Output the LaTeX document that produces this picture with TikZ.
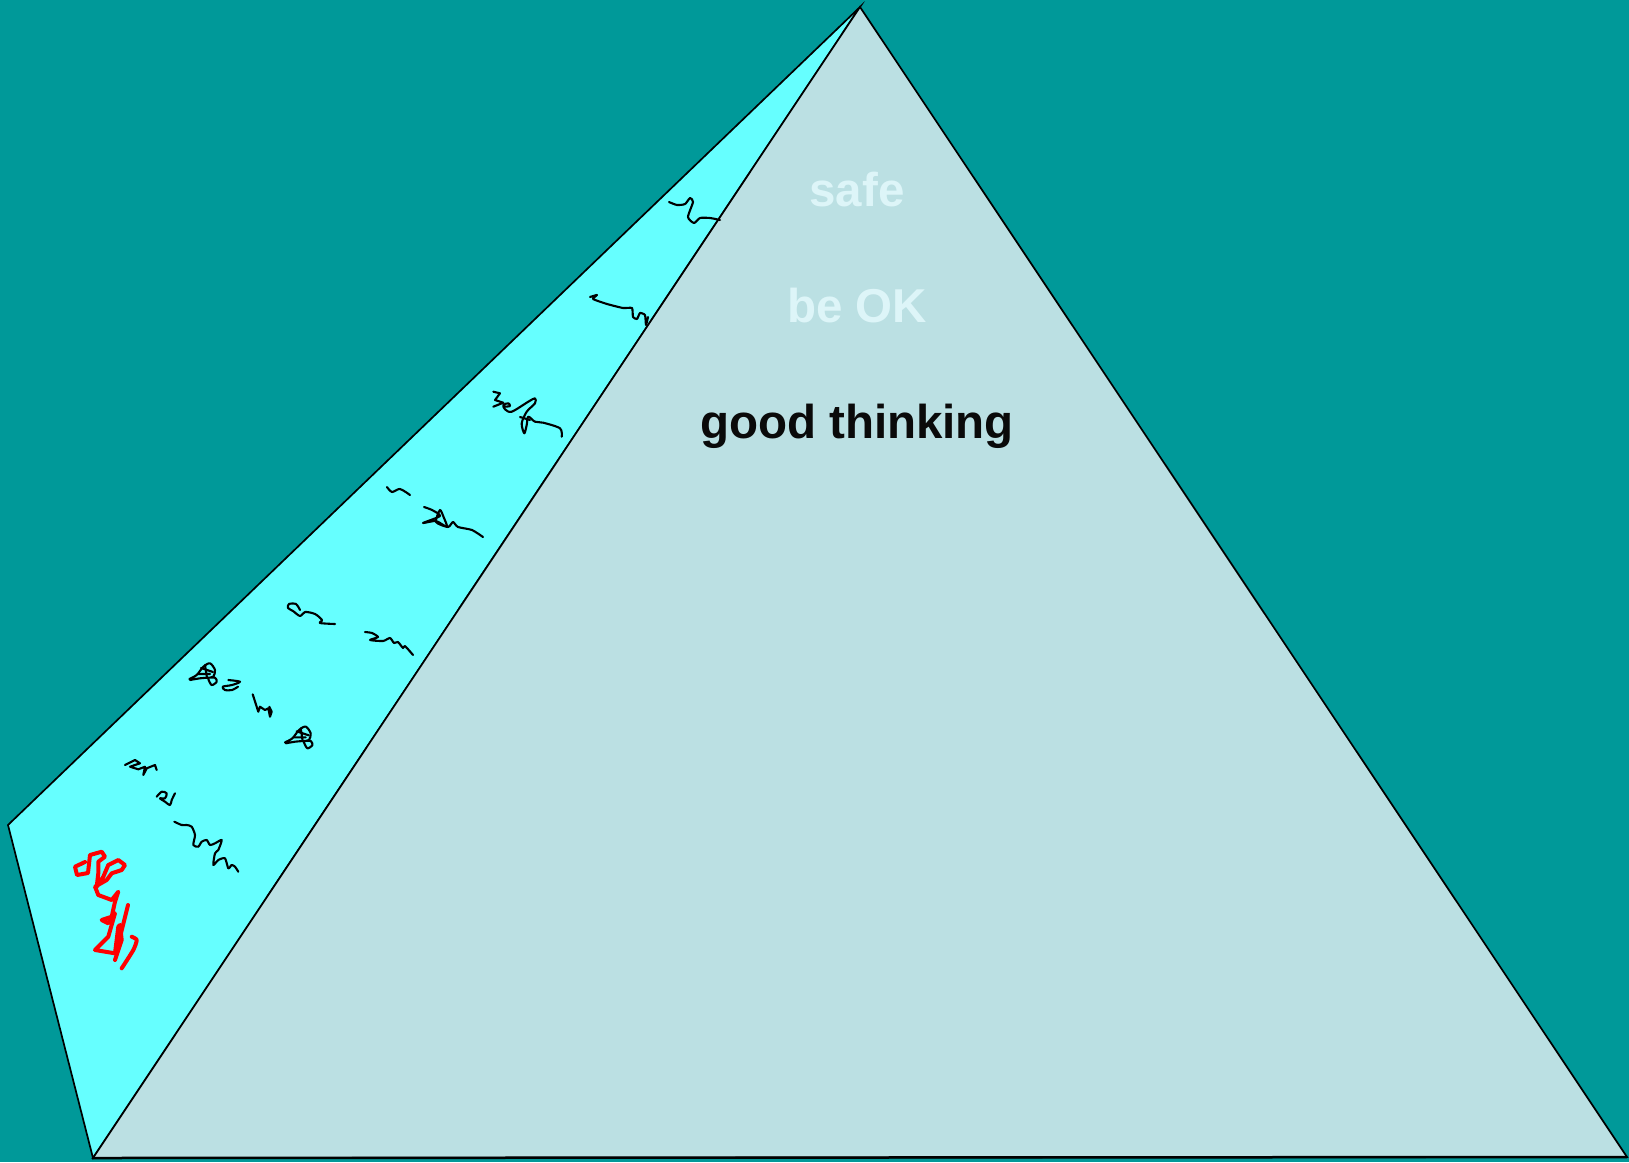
\documentclass[tikz,border=0pt]{standalone}
\usepackage{fontspec}
\setmainfont{Liberation Sans}
\definecolor{bgteal}{HTML}{009999}
\definecolor{sidecyan}{HTML}{66FFFF}
\definecolor{frontface}{HTML}{BBE0E3}
\definecolor{faint}{HTML}{DDF5F8}
\definecolor{ink}{HTML}{0A0A0A}
\tikzset{
  face/.style={draw=black, line width=1.7pt, line join=miter},
  scrib/.style={draw=black, line width=2.1pt, line cap=round, line join=round},
  redscrib/.style={draw=red, line width=4pt, line cap=round, line join=round},
  label/.style={font=\fontsize{47.5}{57}\selectfont\bfseries, inner sep=0pt, anchor=base}
}
\begin{document}
\begin{tikzpicture}[x=1pt,y=-1pt]
\fill[bgteal] (0,0) rectangle (1629,1162);
\useasboundingbox (0,0) rectangle (1629,1162);
\coordinate (apex) at (860,7);
\coordinate (left) at (8,825);
\coordinate (bl) at (93,1158);
\coordinate (br) at (1627,1157);
% side face
\filldraw[face, fill=sidecyan] (apex) -- (left) -- (bl) -- cycle;
% front face
\filldraw[face, fill=frontface] (apex) -- (bl) -- (br) -- cycle;
\draw[black, line width=2.5pt] (bl) -- (br);
% labels
\node[label, text=faint] (safe) at (857,206) {safe};
\node[label, text=faint] (beok) at (857,322) {be OK};
\node[label, text=ink] (good) at (857,438) {good thinking};
% scribbles
\draw[scrib] plot[smooth, tension=0.4] coordinates {(669,202) (677,205) (685,204) (690,198) (693,202) (688,217) (694,223) (700,218) (710,218) (720,220)};
\draw[scrib] plot[smooth, tension=0.3] coordinates {(590,297) (597,295) (593,299) (607,304) (623,308) (632,308) (633,317) (637,319) (640,313) (645,315) (646,325) (648,317)};
\draw[scrib] plot[tension=0.3] coordinates {(493.3,391.7) (500,393.3) (495,400) (503.3,402.7) (493.3,406.7)};
\draw[scrib] plot[smooth, tension=0.5] coordinates {(505,406.7) (510,406) (508.3,403.3) (503.3,405) (505,409.3) (511.7,411.7) (528.3,401.7) (535,398.3) (535,403.3) (526.7,411.7) (521.7,423.3) (524.3,433.3) (526.7,425) (528.3,416.7) (535,421.7) (543.3,422.7) (560,428.3) (561.7,436.7)};
\draw[scrib] (520,417) -- (530,420);
% row 4
\draw[scrib] plot[smooth, tension=0.5] coordinates {(387,487) (392,492) (400,489) (410,495)};
\draw[scrib] plot[smooth, tension=0.4] coordinates {(424,507) (432,510) (440,516) (423,523) (436,521) (447,527) (444,518) (440,510) (436,522) (448,527) (453,522) (458,527) (472,530) (483,537)};
% row 5
\draw[scrib] plot[smooth, tension=0.5] coordinates {(300,610) (296,604) (289,604) (288,608) (293,611) (300,616) (305,612) (315,614) (322,620) (320,623) (335,624)};
\draw[scrib] plot[smooth, tension=0.4] coordinates {(365,632) (372,633) (378,637) (370,640) (383,641) (390,638) (394,643) (398,642) (403,648) (405,646) (413,655)};
% row 6
\begin{scope}
\draw[scrib] plot[smooth, tension=0.5] coordinates {(189.3,679) (196.7,675) (203.3,666.7) (210,663.3) (215,670) (213.3,676.7) (208.3,678.3) (211.7,685) (216.7,681.7) (215,677.7) (208.3,677.7) (200,678.3) (190,680)};
\draw[scrib] (201,668) -- (213,672) (205,665) -- (207,678) (198,674) -- (210,674);
\end{scope}
\begin{scope}[shift={(95.7,63.3)}]
\draw[scrib] plot[smooth, tension=0.5] coordinates {(189.3,679) (196.7,675) (203.3,666.7) (210,663.3) (215,670) (213.3,676.7) (208.3,678.3) (211.7,685) (216.7,681.7) (215,677.7) (208.3,677.7) (200,678.3) (190,680)};
\draw[scrib] (201,668) -- (213,672) (205,665) -- (207,678) (198,674) -- (210,674);
\end{scope}
\draw[scrib] plot[smooth, tension=0.5] coordinates {(228.3,680) (240,681.7) (232,685) (222.7,686.7) (225,690) (232,690) (238,686.7)};
\draw[scrib] plot[tension=0.4] coordinates {(252.7,694.3) (258.3,711.7) (260,706.7) (265,710) (268.3,708.3) (270,716.7) (271.7,711.7) (269.3,706.7)};
% row 7
\draw[scrib] plot[tension=0.4] coordinates {(125,765) (135,760) (140,763.3) (130,766.7) (138.3,769.3) (145,766.7) (143.3,775) (146.7,768.3) (155,765) (156.7,770)};
\draw[scrib] plot[smooth, tension=0.5] coordinates {(156.7,796.7) (161.7,791.7) (166.7,793.3) (165,798.3) (160,798.3) (165,801.7) (170,805) (171.7,800) (173.3,796.7) (175,793.3)};
\draw[scrib] plot[smooth, tension=0.4] coordinates {(174.3,821.7) (181.7,825) (186.7,825) (191.7,826.7) (195,835) (193.3,845) (198.3,846.7) (201.7,841.7) (206.7,840) (210,845) (215,843.3) (221.7,840) (218.3,850) (215,853.3) (213.3,865) (218.3,860) (225,858.3) (228.3,868.3) (231.7,865) (235,866.7) (238.3,871.7)};
% red scribble
\draw[redscrib] plot[tension=0.4] coordinates {(85,862) (75,866.7) (77,875) (88,873) (90,855) (101.7,851.7) (105,856.7) (98.3,861.7) (98.3,873.3) (96.7,886.7) (103.3,876.7) (108.3,865) (118.3,860) (125,865) (121.7,870) (111.7,873.3) (106.7,880) (95,886.7) (98.3,895) (111.7,900) (118.3,891.7) (115,901.7) (111.7,916.7) (101.7,920) (108.3,923.3) (115,913.3) (108.3,936.7) (95,950) (115,953.3) (118.3,926.7) (120,925) (121.7,940) (115,960)};
\draw[redscrib] plot[smooth, tension=0.4] coordinates {(131.7,936.7) (136.7,940) (133.3,950) (121.7,968.3)};
\draw[redscrib] (128,905) -- (118,945);
\end{tikzpicture}
\end{document}
